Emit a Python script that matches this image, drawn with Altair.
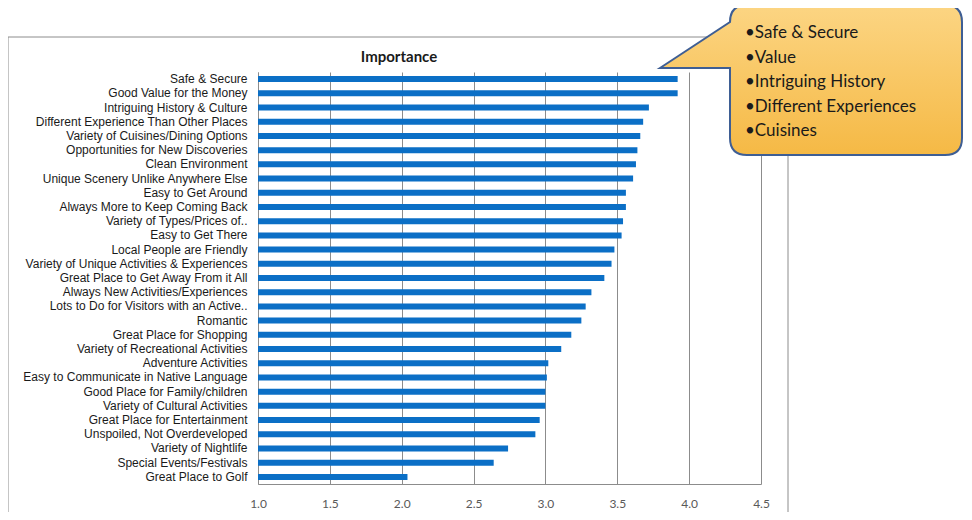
import altair as alt
import pandas as pd

categories = [
    "Safe & Secure",
    "Good Value for the Money",
    "Intriguing History & Culture",
    "Different Experience Than  Other Places",
    "Variety of Cuisines/Dining Options",
    "Opportunities for New Discoveries",
    "Clean Environment",
    "Unique Scenery Unlike Anywhere Else",
    "Easy to Get Around",
    "Always More to Keep Coming Back",
    "Variety of Types/Prices of..",
    "Easy to Get There",
    "Local People are Friendly",
    "Variety of Unique Activities & Experiences",
    "Great Place to Get Away From it All",
    "Always New Activities/Experiences",
    "Lots to Do for Visitors with an Active..",
    "Romantic",
    "Great Place for Shopping",
    "Variety of Recreational Activities",
    "Adventure Activities",
    "Easy to Communicate in Native Language",
    "Good Place for Family/children",
    "Variety of Cultural Activities",
    "Great Place for Entertainment",
    "Unspoiled, Not Overdeveloped",
    "Variety of Nightlife",
    "Special Events/Festivals",
    "Great Place to Golf",
]
values = [3.92, 3.92, 3.72, 3.68, 3.66, 3.64, 3.63, 3.61, 3.56, 3.56,
          3.54, 3.53, 3.48, 3.46, 3.41, 3.32, 3.28, 3.25, 3.18, 3.11,
          3.02, 3.01, 3.00, 3.00, 2.96, 2.93, 2.74, 2.64, 2.04]
x_ticks = [1.0, 1.5, 2.0, 2.5, 3.0, 3.5, 4.0, 4.5]
x_domain = [1.0, 4.5]
chart_title = "Importance"
callout_lines = ["•Safe & Secure", "•Value", "•Intriguing History",
                 "•Different Experiences", "•Cuisines"]

df = pd.DataFrame({"category": categories, "value": values})
one = pd.DataFrame({"title": [chart_title], "note": ["\n".join(callout_lines)]})

GRID = "#8C8C8C"

bars = alt.Chart(df).mark_bar(size=6, color="#0B6FC6").encode(
    x=alt.X(
        "value:Q",
        scale=alt.Scale(domain=x_domain, nice=False, zero=False),
        axis=alt.Axis(
            values=x_ticks, format=".1f", title=None, grid=True,
            gridColor=GRID, gridWidth=1, domainColor=GRID, ticks=False,
            labelPadding=14, labelFlush=False, labelFont="Lato",
            labelFontSize=12, labelColor="#595959",
        ),
    ),
    x2=alt.datum(1.0),
    y=alt.Y(
        "category:N", sort=categories,
        scale=alt.Scale(paddingInner=0, paddingOuter=0),
        axis=alt.Axis(
            title=None, ticks=False, labelLimit=400, labelPadding=11,
            labelFont="Liberation Sans", labelFontSize=12,
            labelColor="#1A1A1A", domainColor=GRID,
        ),
    ),
)

frame = alt.Chart(one).mark_rect(
    fillOpacity=0, stroke="#8C8C8C", strokeWidth=1
).encode(
    x=alt.value(-250), x2=alt.value(530),
    y=alt.value(-35), y2=alt.value(470),
)

title = alt.Chart(one).mark_text(
    font="Lato", fontSize=15, fontWeight="bold", color="#1A1A1A",
    align="center", baseline="middle",
).encode(x=alt.value(141), y=alt.value(-15), text="title:N")

callout_path = ("M -0.75 -0.06 L -0.4 -0.29 Q -0.4 -0.375 -0.315 -0.375 "
                "L 0.675 -0.375 Q 0.76 -0.375 0.76 -0.29 L 0.76 0.29 "
                "Q 0.76 0.375 0.675 0.375 L -0.315 0.375 Q -0.4 0.375 -0.4 0.29 "
                "L -0.4 -0.06 Z")

callout = alt.Chart(one).mark_point(
    shape=callout_path, size=160000, filled=True, opacity=1,
    fill=alt.Gradient(
        gradient="linear", x1=0, y1=0, x2=0, y2=1,
        stops=[alt.GradientStop(color="#FCD583", offset=0),
               alt.GradientStop(color="#F5B945", offset=1)],
    ),
    stroke="#3E5E94", strokeWidth=2,
).encode(x=alt.value(552), y=alt.value(8))

note = alt.Chart(one).mark_text(
    font="Lato", fontSize=17, color="#1A1A1A", align="left",
    baseline="top", lineBreak="\n", lineHeight=24.5,
).encode(x=alt.value(487), y=alt.value(-47), text="note:N")

chart = alt.layer(frame, bars, title, callout, note).properties(
    width=503, height=412,
    autosize=alt.AutoSizeParams(type="none"),
    padding={"left": 250, "top": 64, "right": 203, "bottom": 28},
    background="white",
).configure_view(stroke=None)

chart.save("out.html", embed_options={"renderer": "svg", "actions": False})
